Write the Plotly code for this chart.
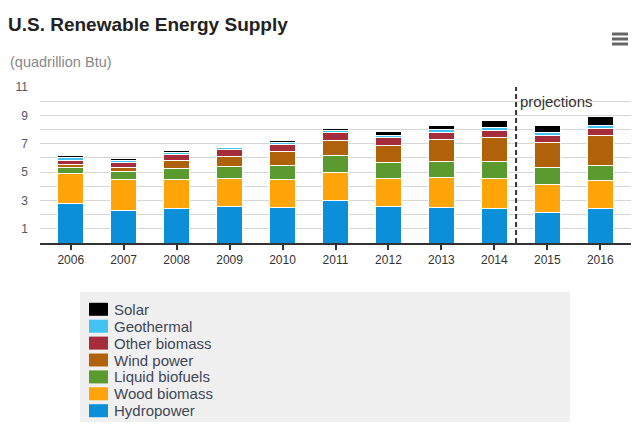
import plotly.graph_objects as go

years = ["2006", "2007", "2008", "2009", "2010", "2011", "2012", "2013", "2014", "2015", "2016"]

hydropower = [2.76, 2.31, 2.43, 2.59, 2.50, 3.02, 2.59, 2.50, 2.41, 2.17, 2.43]
wood_biomass = [2.15, 2.17, 2.05, 1.96, 1.98, 1.96, 1.96, 2.12, 2.14, 1.96, 1.96]
liquid_biofuels = [0.40, 0.54, 0.76, 0.87, 0.99, 1.20, 1.11, 1.13, 1.18, 1.18, 1.11]
wind_power = [0.21, 0.29, 0.61, 0.66, 0.97, 1.08, 1.25, 1.56, 1.72, 1.79, 2.05]
other_biomass = [0.33, 0.37, 0.40, 0.48, 0.52, 0.52, 0.52, 0.47, 0.47, 0.49, 0.49]
geothermal = [0.17, 0.17, 0.16, 0.17, 0.15, 0.17, 0.16, 0.22, 0.25, 0.18, 0.24]
solar = [0.12, 0.12, 0.10, 0.11, 0.12, 0.14, 0.24, 0.28, 0.46, 0.52, 0.62]

series_names = ["Hydropower", "Wood biomass", "Liquid biofuels", "Wind power",
                "Other biomass", "Geothermal", "Solar"]
series_values = [hydropower, wood_biomass, liquid_biofuels, wind_power,
                 other_biomass, geothermal, solar]
series_colors = ["#0a8fd8", "#ffa50a", "#5a9a2e", "#b0620a", "#a52d3b", "#42c3f2", "#000000"]

projection_start = "2015"
y_ticks = [1, 3, 5, 7, 9, 11]

FONT = "Liberation Sans, Arial, sans-serif"
# the page body has an 8px margin: lay out in page pixels, offset into the figure
OX, OY = 8, 8
W, H = 632, 416
PL, PR, PT, PB = 40, 631, 87, 243          # plot area in page pixels
ML, MR, MT, MB = PL - OX, W - (PR - OX), PT - OY, H - (PB - OY)
PW, PH = W - ML - MR, H - MT - MB


def px_x(p):
    return (p - PL) / PW


def px_y(p):
    return (PB - p) / PH


fig = go.Figure()
for name, vals, color in zip(series_names, series_values, series_colors):
    fig.add_trace(go.Bar(
        x=years, y=vals, name=name, showlegend=False,
        marker=dict(color=color, line=dict(color="white", width=1)),
    ))

proj_x = years.index(projection_start) - 0.5

shapes = [
    dict(type="rect", xref="paper", yref="paper",
         x0=px_x(80), x1=px_x(570), y0=px_y(292), y1=px_y(422),
         fillcolor="#f0f0f0", line=dict(width=0), layer="below"),
    dict(type="line", xref="x", yref="y", x0=proj_x, x1=proj_x, y0=0, y1=11,
         x0shift=-0.09, x1shift=-0.09,
         line=dict(color="#333333", width=2, dash="5px,3px")),
]
for yy in (34, 39, 44):
    shapes.append(dict(type="line", xref="paper", yref="paper",
                       x0=px_x(612), x1=px_x(628), y0=px_y(yy), y1=px_y(yy),
                       line=dict(color="#666666", width=3)))

annotations = [
    dict(text="(quadrillion Btu)", xref="paper", yref="paper",
         x=px_x(8), y=px_y(62), xanchor="left", yanchor="middle",
         showarrow=False, font=dict(family=FONT, size=14.5, color="#888888")),
    dict(text="projections", xref="x", yref="y",
         x=proj_x, y=10, xanchor="left", yanchor="middle", xshift=-3,
         showarrow=False, font=dict(family=FONT, size=15, color="#333333")),
]

# legend (top: Solar ... bottom: Hydropower)
leg_top, leg_step = 309.3, 16.9
for i, (name, color) in enumerate(zip(series_names[::-1], series_colors[::-1])):
    cy = leg_top + i * leg_step
    shapes.append(dict(type="rect", xref="paper", yref="paper",
                       x0=px_x(89), x1=px_x(108), y0=px_y(cy + 6.5), y1=px_y(cy - 6.5),
                       fillcolor=color, line=dict(width=0)))
    annotations.append(dict(text=name, xref="paper", yref="paper",
                            x=px_x(112), y=px_y(cy), xanchor="left", yanchor="middle",
                            showarrow=False,
                            font=dict(family=FONT, size=15, color="#3e4758")))

fig.update_layout(
    width=W, height=H,
    barmode="stack", bargap=0.5,
    paper_bgcolor="white", plot_bgcolor="white",
    font=dict(family=FONT, size=12, color="#333333"),
    margin=dict(l=ML, r=MR, t=MT, b=MB, autoexpand=False),
    title=dict(
        text="U.S. Renewable Energy Supply",
        font=dict(family=FONT, size=19, color="#222222", weight="bold"),
        xref="container", yref="container",
        x=0, xanchor="left", y=1 - 10 / H, yanchor="top",
    ),
    xaxis=dict(
        type="category", range=[-0.58, 10.58],
        showline=True, linecolor="#333333", linewidth=2,
        ticks="outside", ticklen=5, tickwidth=1.5, tickcolor="#333333",
        tickfont=dict(size=12, color="#333333"),
        showgrid=False, fixedrange=True,
    ),
    yaxis=dict(
        range=[0, 11], tickvals=y_ticks,
        showgrid=True, gridcolor="#d6d6d6", gridwidth=1,
        minor=dict(dtick=1, tick0=0, showgrid=True, gridcolor="#d6d6d6", gridwidth=1),
        zeroline=False, showline=False, ticks="",
        tickfont=dict(size=12, color="#505868"),
        ticklabelstandoff=11, fixedrange=True,
    ),
    showlegend=False,
    shapes=shapes,
    annotations=annotations,
)

fig.write_html("out.html", config={"displayModeBar": False})
